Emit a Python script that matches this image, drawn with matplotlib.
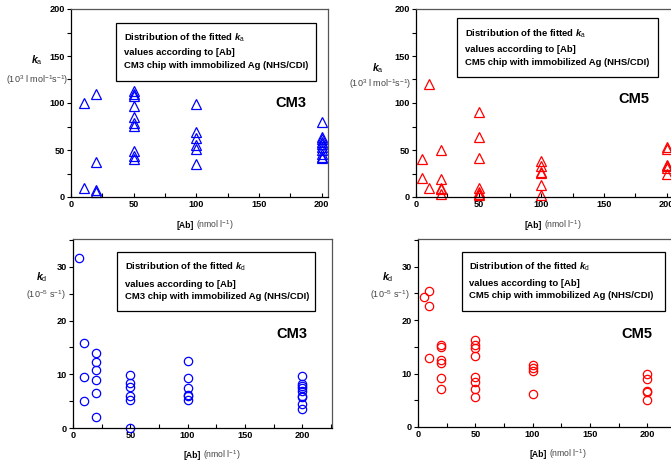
import matplotlib
matplotlib.use("Agg")
import matplotlib.pyplot as plt
from matplotlib.ticker import MultipleLocator

plt.rcParams['font.family'] = ['Liberation Sans', 'DejaVu Sans']
plt.rcParams['mathtext.fontset'] = 'custom'
plt.rcParams['mathtext.rm'] = 'Liberation Sans'
plt.rcParams['mathtext.it'] = 'Liberation Sans:italic:bold'
plt.rcParams['mathtext.bf'] = 'Liberation Sans:bold'

# Association rate constants ka (10^3 l mol^-1 s^-1) vs antibody concentration (nmol/l)
cm3_ka_x = [10, 10,
            20, 20, 20, 20,
            50, 50, 50, 50, 50, 50, 50, 50, 50, 50,
            100, 100, 100, 100, 100, 100,
            200, 200, 200, 200, 200, 200, 200, 200, 200, 200]
cm3_ka_y = [100, 10,
            110, 37, 7, 5,
            113, 110, 107, 97, 85, 79, 76, 49, 44, 40,
            99, 69, 63, 55, 51, 35,
            80, 64, 62, 59, 56, 53, 50, 46, 43, 42]

cm5_ka_x = [5, 5,
            10, 10,
            20, 20, 20, 20, 20,
            50, 50, 50, 50, 50, 50, 50,
            100, 100, 100, 100, 100, 100,
            200, 200, 200, 200, 200, 200]
cm5_ka_y = [40, 20,
            120, 10,
            50, 19.5, 10, 8.5, 3.5,
            90, 63.5, 41, 10, 5, 3, 2,
            38, 32.5, 27, 25.5, 13, 2,
            53, 51, 34, 32.5, 31, 24]

# Dissociation rate constants kd (10^-5 s^-1)
cm3_kd_x = [5,
            10, 10, 10,
            20, 20, 20, 20, 20, 20,
            50, 50, 50, 50, 50, 50,
            100, 100, 100, 100, 100, 100,
            200, 200, 200, 200, 200, 200, 200, 200, 200]
cm3_kd_y = [31.6,
            15.8, 9.5, 5.0,
            14.0, 12.2, 10.8, 8.9, 6.5, 2.1,
            9.9, 8.4, 7.6, 5.9, 5.2, 0.0,
            12.5, 9.4, 7.4, 6.2, 5.9, 5.3,
            9.7, 8.2, 7.9, 7.4, 6.9, 6.0, 5.7, 4.4, 3.6]

cm5_kd_x = [5,
            10, 10, 10,
            20, 20, 20, 20, 20, 20,
            50, 50, 50, 50, 50, 50, 50, 50,
            100, 100, 100, 100,
            200, 200, 200, 200, 200]
cm5_kd_y = [24.3,
            25.5, 22.7, 13.0,
            15.4, 15.0, 12.6, 11.9, 9.2, 7.2,
            16.2, 15.3, 14.7, 13.3, 9.3, 8.4, 7.1, 5.6,
            11.7, 11.0, 10.5, 6.2,
            9.9, 8.9, 6.8, 6.5, 5.1]

W, H = 671, 463
fig = plt.figure(figsize=(W / 100, H / 100), dpi=100)


def px_axes(left, right, top, bottom):
    return fig.add_axes([left / W, (H - bottom) / H, (right - left) / W, (bottom - top) / H])


TICK_FS = 6.6
BOX_FS = 6.8
GRAY = '#444444'


def style(ax, xmax, ymax, ymajor, yminor):
    ax.set_xlim(0, xmax)
    ax.set_ylim(0, ymax)
    ax.xaxis.set_major_locator(MultipleLocator(50))
    ax.xaxis.set_minor_locator(MultipleLocator(25))
    ax.yaxis.set_major_locator(MultipleLocator(ymajor))
    ax.yaxis.set_minor_locator(MultipleLocator(yminor))
    ax.tick_params(axis='x', which='both', direction='in', length=3, width=0.8,
                   labelsize=TICK_FS, pad=2)
    ax.tick_params(axis='y', which='both', direction='out', length=3, width=0.8,
                   labelsize=TICK_FS, pad=1.5)
    for lab in ax.get_xticklabels() + ax.get_yticklabels():
        lab.set_fontweight('bold')
    for sp in ax.spines.values():
        sp.set_linewidth(0.9)
    ax.spines['top'].set_color('#555555')
    ax.spines['right'].set_color('#555555')


def info_box(ax, box, text_x, ys, sym, chip):
    x0, x1, y0, y1 = box
    rect = plt.Rectangle((x0, y0), x1 - x0, y1 - y0, transform=ax.transAxes,
                         fill=False, edgecolor='black', linewidth=0.9, clip_on=False)
    ax.add_patch(rect)
    lines = [f"Distribution of the fitted ${sym}$",
             "values according to [Ab]",
             f"{chip} chip with immobilized Ag (NHS/CDI)"]
    for y, t in zip(ys, lines):
        ax.text(text_x, y, t, transform=ax.transAxes, fontsize=BOX_FS,
                fontweight='bold', va='center', ha='left')


def xlabel(ax, x, y):
    ax.text(x - 0.004, y, "[Ab]", transform=ax.transAxes, fontsize=6.2,
            fontweight='bold', ha='right', va='center')
    ax.text(x + 0.004, y, r"(nmol l$^{-1}$)", transform=ax.transAxes, fontsize=6.2,
            color=GRAY, ha='left', va='center')


# ---- ka, CM3 ----
ax1 = px_axes(71, 328, 9, 197)
ax1.plot(cm3_ka_x, cm3_ka_y, linestyle='none', marker='^', ms=7, mfc='none',
         mec='#0000ff', mew=0.9, clip_on=False)
style(ax1, 205, 200, 50, 25)
info_box(ax1, (0.175, 0.953, 0.617, 0.926), 0.206, (0.846, 0.766, 0.697),
         r"k_\mathrm{a}", "CM3")
ax1.text(0.856, 0.5, "CM3", transform=ax1.transAxes, fontsize=10.5,
         fontweight='bold', ha='center', va='center')
ax1.text(-0.132, 0.729, r"$k_\mathrm{a}$", transform=ax1.transAxes, fontsize=7.5,
         ha='center', va='center')
ax1.text(-0.132, 0.622, r"(10$^3$ l mol$^{-1}$s$^{-1}$)", transform=ax1.transAxes,
         fontsize=6.5, color=GRAY, ha='center', va='center')
xlabel(ax1, 0.482, -0.149)

# ---- ka, CM5 ----
ax2 = px_axes(416, 673, 9, 197)
ax2.plot(cm5_ka_x, cm5_ka_y, linestyle='none', marker='^', ms=7, mfc='none',
         mec='#ff0000', mew=0.9, clip_on=False)
style(ax2, 205, 200, 50, 25)
info_box(ax2, (0.16, 0.942, 0.638, 0.952), 0.191, (0.867, 0.782, 0.718),
         r"k_\mathrm{a}", "CM5")
ax2.text(0.848, 0.521, "CM5", transform=ax2.transAxes, fontsize=10.5,
         fontweight='bold', ha='center', va='center')
ax2.text(-0.148, 0.686, r"$k_\mathrm{a}$", transform=ax2.transAxes, fontsize=7.5,
         ha='center', va='center')
ax2.text(-0.14, 0.601, r"(10$^3$ l mol$^{-1}$s$^{-1}$)", transform=ax2.transAxes,
         fontsize=6.5, color=GRAY, ha='center', va='center')
xlabel(ax2, 0.494, -0.149)

# ---- kd, CM3 ----
ax3 = px_axes(73, 332, 239, 428)
ax3.plot(cm3_kd_x, cm3_kd_y, linestyle='none', marker='o', ms=6, mfc='none',
         mec='#0000ff', mew=0.9, clip_on=False)
style(ax3, 226, 35.2, 10, 5)
info_box(ax3, (0.170, 0.934, 0.617, 0.931), 0.201, (0.851, 0.761, 0.697),
         r"k_\mathrm{d}", "CM3")
ax3.text(0.846, 0.5, "CM3", transform=ax3.transAxes, fontsize=10.5,
         fontweight='bold', ha='center', va='center')
ax3.text(-0.12, 0.798, r"$k_\mathrm{d}$", transform=ax3.transAxes, fontsize=7.5,
         ha='center', va='center')
ax3.text(-0.104, 0.702, r"(10$^{-5}$ s$^{-1}$)", transform=ax3.transAxes,
         fontsize=6.5, color=GRAY, ha='center', va='center')
xlabel(ax3, 0.498, -0.144)

# ---- kd, CM5 ----
ax4 = px_axes(418, 677, 239, 427)
ax4.plot(cm5_kd_x, cm5_kd_y, linestyle='none', marker='o', ms=6, mfc='none',
         mec='#ff0000', mew=0.9, clip_on=False)
style(ax4, 226, 35.2, 10, 5)
info_box(ax4, (0.170, 0.954, 0.617, 0.931), 0.197, (0.851, 0.761, 0.697),
         r"k_\mathrm{d}", "CM5")
ax4.text(0.846, 0.495, "CM5", transform=ax4.transAxes, fontsize=10.5,
         fontweight='bold', ha='center', va='center')
ax4.text(-0.116, 0.798, r"$k_\mathrm{d}$", transform=ax4.transAxes, fontsize=7.5,
         ha='center', va='center')
ax4.text(-0.108, 0.702, r"(10$^{-5}$ s$^{-1}$)", transform=ax4.transAxes,
         fontsize=6.5, color=GRAY, ha='center', va='center')
xlabel(ax4, 0.502, -0.144)

fig.savefig("out.png", dpi=100)
